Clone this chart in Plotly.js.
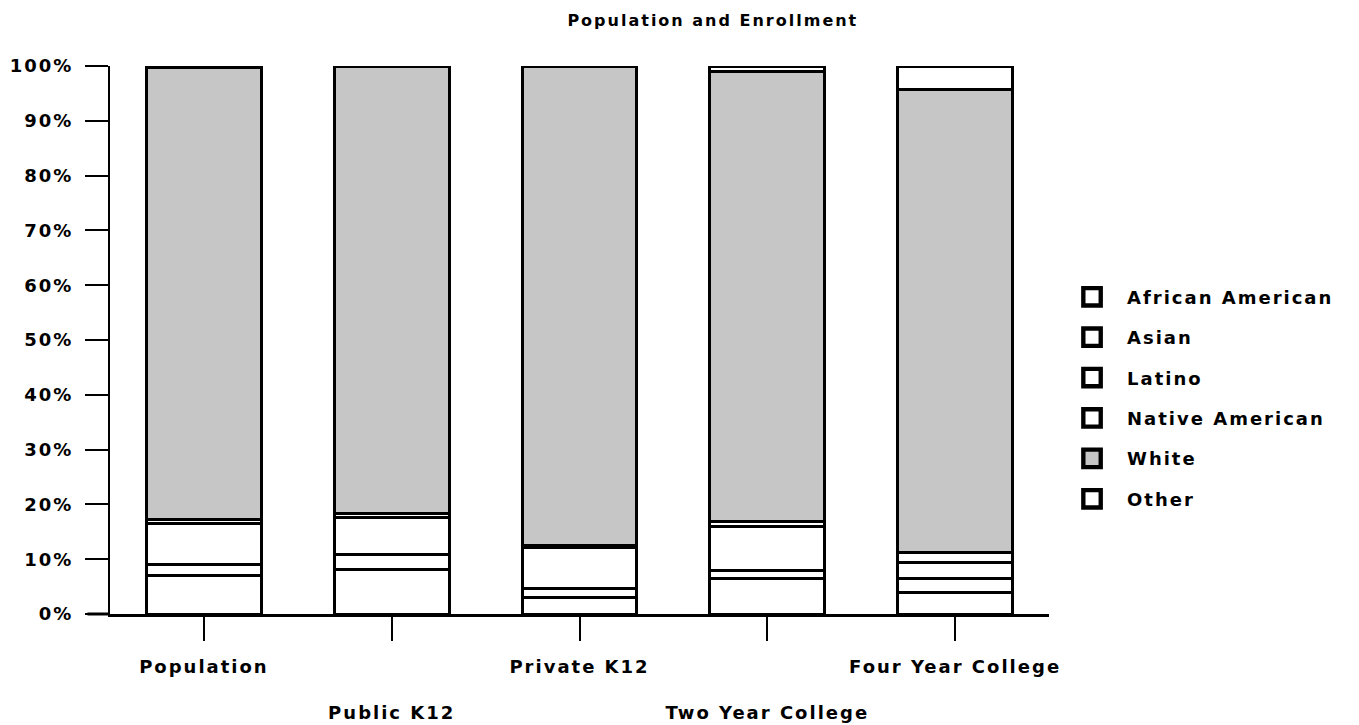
<!DOCTYPE html>
<html>
<head>
<meta charset="utf-8">
<script src="https://cdn.plot.ly/plotly-3.0.1.min.js"></script>
<style>
  html, body { margin: 0; padding: 0; background: #fff; }
  #chart { width: 1359px; height: 725px; }
  .main-svg text { letter-spacing: 2px; }
  .legend .scrollbox { clip-path: none !important; }
  .legend .legendpoints path { transform-box: fill-box; transform-origin: center; transform: translate(5px, 0px) scale(1.45); }
</style>
</head>
<body>
<div id="chart"></div>
<script>
const categories = ["Population", "Public K12", "Private K12", "Two Year College", "Four Year College"];
const tickLabels = ["Population", "\u00a0<br>\u00a0<br>Public K12", "Private K12", "\u00a0<br>\u00a0<br>Two Year College", "Four Year College"];
const seriesNames = ["African American", "Asian", "Latino", "Native American", "White", "Other"];
const africanAmerican = [7.0, 8.2, 3.1, 6.4, 4.0];
const asian = [2.0, 2.6, 1.6, 1.6, 2.4];
const latino = [7.5, 6.9, 7.5, 8.0, 3.0];
const nativeAmerican = [0.8, 0.7, 0.3, 0.8, 1.8];
const white = [82.5, 81.5, 87.5, 82.2, 84.6];
const other = [0.2, 0.1, 0.0, 1.0, 4.2];
const yTicks = [0, 10, 20, 30, 40, 50, 60, 70, 80, 90, 100];

const seriesValues = [africanAmerican, asian, latino, nativeAmerican, white, other];
const fills = ["#ffffff", "#ffffff", "#ffffff", "#ffffff", "#c6c6c6", "#ffffff"];

const traces = seriesNames.map((name, i) => ({
  type: "bar",
  name: name,
  x: categories,
  y: seriesValues[i],
  width: 0.612,
  legendgroup: "g" + i,
  marker: { color: fills[i], line: { color: "#000", width: 3 } },
  hoverinfo: "name+y"
}));

const fontFam = "DejaVu Sans, sans-serif";
const labelFont = { family: fontFam, size: 18, color: "#000", weight: "bold" };

const layout = {
  width: 1359,
  height: 725,
  margin: { l: 110, r: 310, t: 66, b: 111 },
  paper_bgcolor: "#fff",
  plot_bgcolor: "#fff",
  barmode: "stack",
  showlegend: true,
  title: {
    text: "Population and Enrollment",
    font: { family: fontFam, size: 16, color: "#000", weight: "bold" },
    xref: "paper", x: 0.642, xanchor: "center",
    yref: "container", y: 0.972, yanchor: "middle"
  },
  font: labelFont,
  xaxis: {
    type: "category",
    range: [-0.5, 4.5],
    tickmode: "array",
    tickvals: categories,
    ticktext: tickLabels,
    ticks: "outside",
    ticklen: 24,
    tickwidth: 2,
    tickcolor: "#000",
    ticklabelstandoff: 10,
    showline: true,
    linecolor: "#000",
    linewidth: 3,
    showgrid: false,
    zeroline: false,
    automargin: false,
    fixedrange: true,
    tickfont: labelFont
  },
  yaxis: {
    range: [0, 100],
    tickmode: "array",
    tickvals: yTicks,
    ticktext: yTicks.map(v => v + "%"),
    ticks: "outside",
    ticklen: 23,
    tickwidth: 2,
    tickcolor: "#000",
    ticklabelstandoff: 8,
    showline: true,
    linecolor: "#000",
    linewidth: 2,
    showgrid: false,
    zeroline: false,
    automargin: false,
    fixedrange: true,
    tickfont: labelFont
  },
  legend: {
    x: 1.0405, xanchor: "left",
    y: 0.394, yanchor: "middle",
    traceorder: "grouped",
    tracegroupgap: 14,
    font: labelFont,
    bgcolor: "rgba(0,0,0,0)",
    borderwidth: 0
  },
  shapes: [{
    type: "line", xref: "paper", yref: "paper",
    x0: -0.024, x1: 0, y0: 0, y1: 0,
    line: { color: "#000", width: 3 }
  }]
};

Plotly.newPlot("chart", traces, layout, { displayModeBar: false, staticPlot: true });
</script>
</body>
</html>
